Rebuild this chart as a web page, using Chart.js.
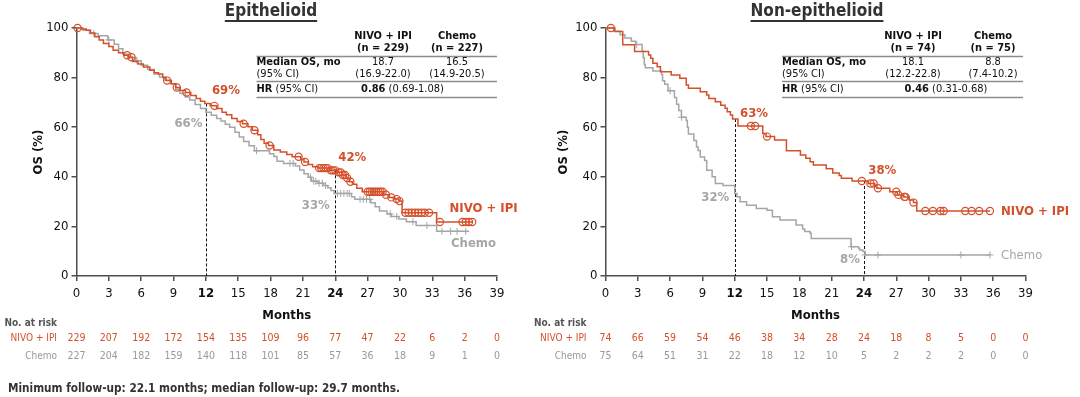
<!DOCTYPE html>
<html><head><meta charset="utf-8">
<script src="https://cdn.jsdelivr.net/npm/chart.js@4/dist/chart.umd.min.js"></script>
<style>
html,body{margin:0;padding:0;background:#fff;width:1080px;height:397px;overflow:hidden}
#left{position:absolute;left:0;top:0}
#right{position:absolute;left:520px;top:0}
</style></head><body>
<canvas id="left" width="520" height="397"></canvas>
<canvas id="right" width="560" height="397"></canvas>
<script>
// ---------------- DATA ----------------
const MONTH_TICKS = [0,3,6,9,12,15,18,21,24,27,30,33,36,39];
const LANDMARKS = [12, 24];

// Epithelioid - NIVO + IPI (Kaplan-Meier steps: time, OS % after step)
const epiNivoTime = [0,0.5,0.9,1.3,1.7,2.1,2.5,3.0,3.4,3.9,4.4,4.8,5.2,5.7,6.2,6.8,7.2,7.6,8.0,8.3,8.8,9.2,9.6,10.1,10.6,11.1,11.5,11.9,12.4,13.0,13.5,13.9,14.4,14.9,15.4,15.9,16.3,16.8,17.1,17.4,17.8,18.3,18.9,19.5,20.0,20.8,21.1,21.5,21.9,22.4,23.5,24.2,24.6,25.0,25.3,25.6,26.0,26.5,28.5,29.0,29.5,29.9,30.2,33.4,36.7];
const epiNivoOS   = [100,99.6,99.1,98.0,96.5,95.2,93.8,92.5,91.0,90.0,89.0,88.2,86.5,85.5,84.3,83.0,82.0,81.5,80.0,78.8,77.5,76.0,74.8,74.0,72.8,71.6,70.5,69.6,68.6,67.5,66.0,65.0,63.5,62.3,61.4,60.2,58.8,57.0,55.0,53.5,52.6,50.8,50.0,49.0,48.1,47.0,46.0,45.0,44.1,43.5,42.6,41.8,40.7,39.5,38.0,37.0,35.4,34.0,32.8,31.7,31.0,30.2,25.5,21.8,21.8];
const epiNivoCensor = [0.1,4.7,5.1,8.4,9.3,10.2,12.8,15.5,16.5,17.9,20.6,21.2,22.5,22.7,22.9,23.1,23.3,23.6,23.8,24.0,24.3,24.5,24.7,24.9,25.1,25.4,27.0,27.2,27.4,27.6,27.8,28.0,28.2,28.4,28.7,29.2,29.7,29.95,30.5,30.8,31.1,31.4,31.7,32.0,32.3,32.7,33.7,35.8,36.1,36.4,36.7];

// Epithelioid - Chemo
const epiChemoTime = [0,0.6,1.2,2.0,2.9,3.5,3.9,4.3,4.9,5.5,6.0,6.6,7.2,7.7,8.2,8.7,9.2,9.6,10.1,10.5,11.0,11.5,12.0,12.5,13.0,13.4,13.8,14.2,14.7,15.1,15.5,16.0,16.5,17.9,18.3,18.6,19.2,20.3,20.7,21.1,21.5,21.8,22.4,22.9,23.3,23.6,23.9,25.5,25.8,27.3,27.7,28.1,28.8,29.2,29.9,30.6,31.5,33.4,36.4];
const epiChemoOS   = [100,99.1,97.8,96.9,95.2,93.4,91.6,89.4,88.1,86.8,85.0,83.3,81.5,80.2,78.9,77.5,75.3,73.6,72.2,71.0,69.2,67.5,66.0,64.8,63.5,62.5,61.2,60.0,58.0,56.0,54.2,52.5,50.5,49.3,48.2,46.3,45.4,44.4,42.7,41.2,39.8,38.2,37.4,36.5,35.6,34.5,33.3,32.0,30.9,29.5,27.9,26.2,25.0,24.0,23.0,21.9,20.4,18.0,18.0];
const epiChemoCensor = [1.6,3.0,5.6,16.7,19.8,20.1,21.7,22.0,22.2,22.5,22.8,23.1,24.2,24.5,24.8,25.1,25.3,26.3,26.6,26.9,27.2,29.1,29.7,31.2,32.5,33.9,34.7,35.3,36.1];

// Non-epithelioid - NIVO + IPI
const nonNivoTime = [0,0.8,1.6,2.7,4.0,4.2,4.4,4.8,5.1,6.1,6.9,7.5,7.7,8.8,9.4,9.6,10.2,10.7,11.1,11.3,11.6,11.8,12.3,14.6,14.9,15.7,16.8,18.1,18.6,19.0,19.3,20.5,21.1,21.7,21.9,22.9,24.4,25.0,25.2,26.4,27.1,27.7,28.2,28.6,28.9,35.7];
const nonNivoOS   = [100,98.6,93.2,90.5,89.1,87.8,85.8,84.4,82.4,81.0,79.7,77.0,75.7,74.3,73.0,71.6,70.3,68.9,67.6,66.2,64.9,63.3,60.5,57.5,56.2,54.8,50.5,48.8,47.5,46.1,44.8,43.2,41.5,40.5,39.4,38.3,37.3,36.5,35.4,34.0,32.7,31.9,30.6,29.6,26.2,26.2];
const nonNivoCensor = [0.5,13.5,13.9,15.0,23.8,24.6,24.9,25.3,27.0,27.2,27.75,27.85,28.6,29.7,30.4,31.1,31.4,33.4,34.0,34.7,35.7];

// Non-epithelioid - Chemo
const nonChemoTime = [0,0.9,1.35,1.8,2.4,2.8,3.4,3.5,3.6,3.7,4.4,5.2,5.3,5.5,5.8,6.4,6.6,6.8,7.05,7.5,7.6,7.7,8.2,8.45,8.6,8.8,9.2,9.4,9.9,10.2,10.9,12.0,12.2,12.5,13.1,14.0,15.0,15.5,16.2,17.7,18.3,18.5,19.0,19.1,22.8,23.5,23.6,23.9,24.1,35.7];
const nonChemoOS   = [100,98.7,97.3,96.0,94.7,93.3,90.7,88.0,85.3,84.0,82.7,81.3,78.7,77.3,74.7,72.0,69.3,66.7,64.0,62.7,60.0,57.3,54.6,52.0,50.6,48.0,46.6,42.6,40.0,37.3,36.5,33.3,32.0,29.9,28.5,27.2,26.5,23.9,22.6,20.6,19.0,17.9,17.2,15.1,11.8,11.2,10.5,9.9,8.5,8.5];
const nonChemoCensor = [2.9,6.0,7.07,22.85,24.1,25.3,33.0,35.7];

// Landmark OS labels (%), at LANDMARKS months
const epiNivoLandmark = [69, 42];
const epiChemoLandmark = [66, 33];
const nonNivoLandmark = [63, 38];
const nonChemoLandmark = [32, 8];

// Numbers at risk at MONTH_TICKS
const epiRiskNivo  = [229,207,192,172,154,135,109,96,77,47,22,6,2,0];
const epiRiskChemo = [227,204,182,159,140,118,101,85,57,36,18,9,1,0];
const nonRiskNivo  = [74,66,59,54,46,38,34,28,24,18,8,5,0,0];
const nonRiskChemo = [75,64,51,31,22,18,12,10,5,2,2,2,0,0];

// Summary tables
const epiN = [229, 227];
const epiMedianOS = ['18.7', '16.5'];
const epiMedianCI = ['(16.9-22.0)', '(14.9-20.5)'];
const epiHR = ['0.86', '(0.69-1.08)'];
const nonN = [74, 75];
const nonMedianOS = ['18.1', '8.8'];
const nonMedianCI = ['(12.2-22.8)', '(7.4-10.2)'];
const nonHR = ['0.46', '(0.31-0.68)'];

// ---------------- STYLE ----------------
const FONT = "'DejaVu Sans Condensed', 'DejaVu Sans', sans-serif";
const ORANGE = '#D4502A';
const GRAY = '#A6A6A6';
const AXIS = '#4D4D4D';
const INK = '#111111';
Chart.defaults.font.family = FONT;

function stepPoints(t, s) { return t.map((v, i) => ({x: v, y: s[i]})); }
function survAt(t, s, time) { let v = s[0]; for (let i = 0; i < t.length; i++) { if (t[i] <= time) v = s[i]; else break; } return v; }
function censorPoints(c, t, s) { return c.map(ct => ({x: ct, y: survAt(t, s, ct)})); }

function setFont(ctx, size, weight) { ctx.font = `${weight} ${size}px ${FONT}`; }
function text(ctx, s, x, y, size, weight, color, align) {
  setFont(ctx, size, weight); ctx.fillStyle = color; ctx.textAlign = align || 'left'; ctx.textBaseline = 'middle';
  ctx.fillText(s, x, y);
}
function runs(ctx, parts, x, y, size, color, align) {
  const w = parts.map(p => { setFont(ctx, size, p[1]); return ctx.measureText(p[0]).width; });
  const total = w.reduce((a, b) => a + b, 0);
  let cx = align === 'center' ? x - total / 2 : (align === 'right' ? x - total : x);
  ctx.fillStyle = color; ctx.textAlign = 'left'; ctx.textBaseline = 'middle';
  parts.forEach((p, i) => { setFont(ctx, size, p[1]); ctx.fillText(p[0], cx, y); cx += w[i]; });
}

function makeDecor(P) {
  return {
    id: 'kmDecor',
    beforeDatasetsDraw(chart) {
      const {ctx} = chart; const xs = chart.scales.x, ys = chart.scales.y;
      ctx.save(); ctx.setLineDash([3, 2]); ctx.strokeStyle = INK; ctx.lineWidth = 1;
      LANDMARKS.forEach(m => {
        const top = Math.max(survAt(P.nivoT, P.nivoS, m), survAt(P.chemoT, P.chemoS, m));
        const x = Math.round(xs.getPixelForValue(m)) + 0.5;
        ctx.beginPath(); ctx.moveTo(x, ys.getPixelForValue(top)); ctx.lineTo(x, ys.getPixelForValue(0)); ctx.stroke();
      });
      ctx.restore();
    },
    afterDraw(chart) {
      const {ctx} = chart; const xs = chart.scales.x, ys = chart.scales.y; const o = P.offset;
      ctx.save();
      // title
      text(ctx, P.title, P.titleX - o, 11.5, 17, 'bold', '#333', 'center');
      setFont(ctx, 17, 'bold'); const tw = ctx.measureText(P.title).width;
      ctx.fillStyle = '#333'; ctx.fillRect(P.titleX - o - tw / 2, 20, tw, 2);
      // summary table
      const T = P.table; const L = T.left - o, R = T.right - o;
      const c1 = T.cols[0] - o, c2 = T.cols[1] - o;
      text(ctx, 'NIVO + IPI', c1, 36, 11, 'bold', INK, 'center');
      text(ctx, `(n = ${P.n[0]})`, c1, 48.5, 11, 'bold', INK, 'center');
      text(ctx, 'Chemo', c2, 36, 11, 'bold', INK, 'center');
      text(ctx, `(n = ${P.n[1]})`, c2, 48.5, 11, 'bold', INK, 'center');
      ctx.strokeStyle = '#8C8C8C'; ctx.lineWidth = 1.6;
      [56.5, 81.5, 97.5].forEach(y => { ctx.beginPath(); ctx.moveTo(L, y); ctx.lineTo(R, y); ctx.stroke(); });
      text(ctx, 'Median OS, mo', L, 62.5, 11, 'bold', INK, 'left');
      text(ctx, '(95% CI)', L, 74, 11, 'normal', INK, 'left');
      text(ctx, P.median[0], c1, 62.5, 11, 'normal', INK, 'center');
      text(ctx, P.ci[0], c1, 74, 11, 'normal', INK, 'center');
      text(ctx, P.median[1], c2, 62.5, 11, 'normal', INK, 'center');
      text(ctx, P.ci[1], c2, 74, 11, 'normal', INK, 'center');
      runs(ctx, [['HR', 'bold'], [' (95% CI)', 'normal']], L, 89.5, 11, INK, 'left');
      runs(ctx, [[P.hr[0], 'bold'], [' ' + P.hr[1], 'normal']], T.hr - o, 89.5, 11, INK, 'center');
      // landmark labels
      LANDMARKS.forEach((m, i) => {
        const x = xs.getPixelForValue(m);
        const a = P.nivoLab[i], b = P.chemoLab[i];
        text(ctx, a.v + '%', x + a.dx, ys.getPixelForValue(a.v) + a.dy, 13, 'bold', ORANGE, 'left');
        text(ctx, b.v + '%', x - b.dx, ys.getPixelForValue(b.v) + b.dy, 13, 'bold', GRAY, 'right');
      });
      // end labels
      text(ctx, 'NIVO + IPI', P.nivoEnd[0] - o, P.nivoEnd[1], 13, 'bold', ORANGE, 'left');
      text(ctx, 'Chemo', P.chemoEnd[0] - o, P.chemoEnd[1], 13, P.chemoEndWeight, GRAY, 'left');
      // risk table
      const rx = P.riskLabelX - o;
      text(ctx, 'No. at risk', rx, 323.5, 10, 'bold', '#555', 'right');
      text(ctx, 'NIVO + IPI', rx, 338, 10, 'normal', ORANGE, 'right');
      text(ctx, 'Chemo', rx, 356.5, 10, 'normal', '#999', 'right');
      MONTH_TICKS.forEach((m, i) => {
        const x = xs.getPixelForValue(m);
        text(ctx, String(P.riskN[i]), x, 338, 10.5, 'normal', ORANGE, 'center');
        text(ctx, String(P.riskC[i]), x, 356.5, 10.5, 'normal', '#999', 'center');
      });
      if (P.footnote) text(ctx, P.footnote, 8, 389, 11.7, 'bold', '#333', 'left');
      ctx.restore();
    }
  };
}

function makeChart(id, P) {
  const ds = [
    {type: 'scatter', data: censorPoints(P.nivoC, P.nivoT, P.nivoS), pointStyle: 'circle', pointRadius: 3.6,
     borderColor: ORANGE, backgroundColor: 'rgba(255,255,255,0)', borderWidth: 1.2, clip: false},
    {type: 'line', data: stepPoints(P.nivoT, P.nivoS), stepped: true, borderColor: ORANGE, borderWidth: 1.5,
     pointRadius: 0, fill: false, clip: false},
    {type: 'scatter', data: censorPoints(P.chemoC, P.chemoT, P.chemoS), pointStyle: 'cross', pointRadius: 3.5,
     borderColor: GRAY, borderWidth: 1, clip: false},
    {type: 'line', data: stepPoints(P.chemoT, P.chemoS), stepped: true, borderColor: GRAY, borderWidth: 1.5,
     pointRadius: 0, fill: false, clip: false}
  ];
  return new Chart(document.getElementById(id), {
    type: 'scatter',
    data: {datasets: ds},
    plugins: [makeDecor(P)],
    options: {
      responsive: false, animation: false, devicePixelRatio: 1,
      layout: {padding: {left: 0, right: P.padRight, top: 28, bottom: 71}},
      plugins: {legend: {display: false}, tooltip: {enabled: false}},
      events: [],
      scales: {
        x: {
          type: 'linear', min: 0, max: 39,
          afterBuildTicks: s => { s.ticks = MONTH_TICKS.map(v => ({value: v})); },
          afterFit: s => { s.height = 50; },
          grid: {drawOnChartArea: false, drawTicks: true, tickLength: 5, color: AXIS, lineWidth: 1.5},
          border: {display: true, color: AXIS, width: 1.5},
          ticks: {color: INK, padding: 5, maxRotation: 0, autoSkip: false,
            font: c => ({family: FONT, size: 13, weight: (c.tick && LANDMARKS.includes(c.tick.value)) ? 'bold' : 'normal'})},
          title: {display: true, text: 'Months', color: INK, font: {family: FONT, size: 13, weight: 'bold'}, padding: {top: 0, bottom: 3}}
        },
        y: {
          min: 0, max: 100,
          afterFit: s => { s.width = P.axisLeft; },
          grid: {drawOnChartArea: false, drawTicks: true, tickLength: 5, color: AXIS, lineWidth: 1.5},
          border: {display: true, color: AXIS, width: 1.5},
          ticks: {stepSize: 20, color: INK, padding: 3, font: {family: FONT, size: 13}},
          title: {display: true, text: 'OS (%)', color: INK, font: {family: FONT, size: 13, weight: 'bold'}, padding: {top: P.yTitlePad, bottom: 0}}
        }
      }
    }
  });
}

makeChart('left', {
  offset: 0, axisLeft: 76.5, padRight: 23, yTitlePad: 30.5,
  title: 'Epithelioid', titleX: 271,
  nivoT: epiNivoTime, nivoS: epiNivoOS, nivoC: epiNivoCensor,
  chemoT: epiChemoTime, chemoS: epiChemoOS, chemoC: epiChemoCensor,
  table: {left: 256.5, right: 497, cols: [383, 457], hr: 402.5},
  n: epiN, median: epiMedianOS, ci: epiMedianCI, hr: epiHR,
  nivoLab: epiNivoLandmark.map((v, i) => ({v, dx: [6, 3][i], dy: [-14, -14.5][i]})),
  chemoLab: epiChemoLandmark.map((v, i) => ({v, dx: [3.5, 5.5][i], dy: [11.7, 11.8][i]})),
  nivoEnd: [449.5, 209], chemoEnd: [451, 244], chemoEndWeight: 'bold',
  riskLabelX: 57, riskN: epiRiskNivo, riskC: epiRiskChemo,
  footnote: 'Minimum follow-up: 22.1 months; median follow-up: 29.7 months.'
});

makeChart('right', {
  offset: 520, axisLeft: 85.5, padRight: 54.5, yTitlePad: 35.5,
  title: 'Non-epithelioid', titleX: 817,
  nivoT: nonNivoTime, nivoS: nonNivoOS, nivoC: nonNivoCensor,
  chemoT: nonChemoTime, chemoS: nonChemoOS, chemoC: nonChemoCensor,
  table: {left: 782, right: 1023, cols: [913, 993], hr: 946},
  n: nonN, median: nonMedianOS, ci: nonMedianCI, hr: nonHR,
  nivoLab: nonNivoLandmark.map((v, i) => ({v, dx: [5.3, 4.3][i], dy: [-6.5, -11][i]})),
  chemoLab: nonChemoLandmark.map((v, i) => ({v, dx: [5.4, 4][i], dy: [0.7, 3.8][i]})),
  nivoEnd: [1001, 212], chemoEnd: [1001, 256], chemoEndWeight: 'normal',
  riskLabelX: 586.5, riskN: nonRiskNivo, riskC: nonRiskChemo,
  footnote: null
});
</script></body></html>
